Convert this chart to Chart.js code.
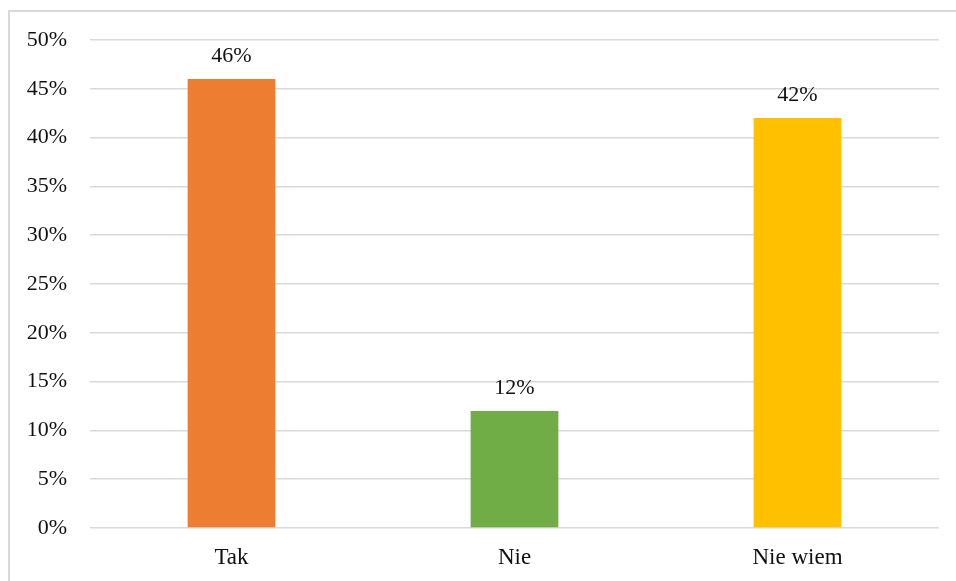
<!DOCTYPE html>
<html>
<head>
<meta charset="utf-8">
<script src="https://cdn.jsdelivr.net/npm/chart.js@4.4.0/dist/chart.umd.min.js"></script>
<style>
  html, body { margin: 0; padding: 0; background: #fff; overflow: hidden; }
  #frame { position: absolute; left: 8px; top: 10px; width: 960px; height: 600px; border: 2px solid #d9d9d9; box-sizing: border-box; }
  #wrap { position: absolute; left: 0; top: 0; width: 956px; height: 581px; }
</style>
</head>
<body>
<div id="frame"></div>
<div id="wrap"><canvas id="graph"></canvas></div>
<script>
// odpowiedzi
const kategorie = ['Tak', 'Nie', 'Nie wiem']
const wartosci = [46, 12, 42]
const kolory = ['#ED7D31', '#70AD47', '#FFC000']
const ticki = [0, 5, 10, 15, 20, 25, 30, 35, 40, 45, 50]

const czcionka = "'Liberation Serif', 'Times New Roman', serif"

// etykiety nad slupkami
const etykiety = {
  id: 'etykiety',
  afterDatasetsDraw(chart) {
    const ctx = chart.ctx
    const meta = chart.getDatasetMeta(0)
    ctx.save()
    ctx.font = '22px ' + czcionka
    ctx.fillStyle = '#111'
    ctx.textAlign = 'center'
    ctx.textBaseline = 'middle'
    meta.data.forEach(function (bar, i) {
      ctx.fillText(wartosci[i] + '%', bar.x, bar.y - 23)
    })
    ctx.restore()
  }
}

const data = {
  labels: kategorie,
  datasets: [{
    data: wartosci,
    backgroundColor: kolory,
    borderWidth: 0,
    categoryPercentage: 1,
    barPercentage: 0.31
  }]
}

const config = {
  type: 'bar',
  data: data,
  options: {
    responsive: true,
    maintainAspectRatio: false,
    animation: false,
    layout: { padding: { top: 40, right: 17, left: 0, bottom: 0 } },
    plugins: {
      legend: { display: false },
      tooltip: { enabled: false }
    },
    scales: {
      x: {
        grid: { display: false },
        border: { display: false },
        ticks: { color: '#111', font: { family: czcionka, size: 23 }, padding: 8 },
        afterFit: function (s) { s.height = 53 }
      },
      y: {
        min: 0,
        max: 50,
        afterBuildTicks: function (s) { s.ticks = ticki.map(function (v) { return { value: v } }) },
        grid: { color: '#d9d9d9', lineWidth: 1.5, drawTicks: false },
        border: { display: false },
        ticks: {
          color: '#111',
          font: { family: czcionka, size: 22 },
          padding: 23,
          callback: function (v) { return v + '%' }
        },
        afterFit: function (s) { s.width = 90 }
      }
    }
  },
  plugins: [etykiety]
}

const myChart = new Chart(document.getElementById('graph'), config)
</script>
</body>
</html>
